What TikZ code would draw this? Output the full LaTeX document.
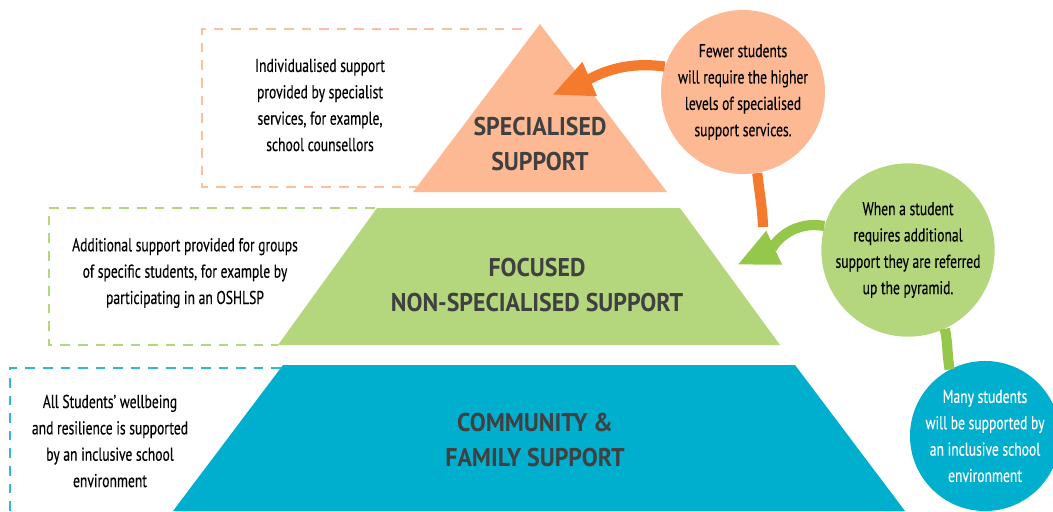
\documentclass[tikz,border=0pt]{standalone}
\usepackage{fontspec}
\setmainfont{PT Sans}[FakeStretch=0.73, FakeBold=0.3]
\newfontfamily\titlefont{PT Sans}[FakeStretch=0.93]
\usetikzlibrary{arrows.meta,positioning}

\definecolor{peach}{HTML}{FDB993}
\definecolor{peachdash}{HTML}{FBC0A0}
\definecolor{deeporange}{HTML}{F47A2E}
\definecolor{leaf}{HTML}{B4D67C}
\definecolor{deepleaf}{HTML}{95C84A}
\definecolor{sea}{HTML}{00AFCE}
\definecolor{seadash}{HTML}{33B8D2}
\definecolor{titlegray}{HTML}{404040}

\tikzset{
    bubble/.style={circle, minimum size=#1, inner sep=0pt, align=center,
        font=\fontsize{10.6}{15}\selectfont},
    note/.style={align=center, text=black, font=\fontsize{10.6}{15}\selectfont},
    level/.style={align=center, text=titlegray, font=\titlefont\bfseries\fontsize{14.6}{19.5}\selectfont},
    dashbox/.style={line width=1.5pt, dash pattern=on 5.5pt off 4.5pt},
    fatarrow/.style={line width=5.8pt, -{Triangle[length=0.82cm, width=0.68cm]}},
    fatline/.style={line width=5.8pt}
}

\begin{document}
\begin{tikzpicture}[x=0.02cm, y=-0.02cm]
    \useasboundingbox (0,0) rectangle (1053,511);

    % Pyramid levels
    \fill[peach] (540,24) -- (667,192) -- (413,192) -- cycle;
    \fill[leaf] (377,208) -- (680,208) -- (780,345) -- (278,345) -- cycle;
    \fill[sea] (283,365) -- (795,365) -- (905,511) -- (173,511) -- cycle;

    \node[level] (special) at (540,144) {SPECIALISED\\SUPPORT};
    \node[level] (focused) at (537,285) {FOCUSED\\NON-SPECIALISED SUPPORT};
    \node[level] (community) at (535,440) {COMMUNITY \&\\FAMILY SUPPORT};

    % Dashed boxes on the left
    \draw[dashbox, peachdash] (522,29) -- (202,29) -- (202,187) -- (417,187);
    \draw[dashbox, leaf] (375,208) -- (49,208) -- (49,345) -- (278,345);
    \draw[dashbox, seadash] (281,368) -- (10,368) -- (10,511);

    \node[note] (individual) at (320,105) {Individualised support\\provided by specialist\\services, for example,\\school counsellors};
    \node[note] (additional) at (185,273) {Additional support provided for groups\\of specific students, for example by\\participating in an OSHLSP};
    \node[note] (wellbeing) at (110,441) {All Students’ wellbeing\\and resilience is supported\\by an inclusive school\\environment};

    % Circles on the right
    \node[bubble=3.28cm, fill=peach] (fewer) at (743,92) {Fewer students\\will require the higher\\levels of specialised\\support services.};
    \node[bubble=3.28cm, fill=leaf] (when) at (908,250) {When a student\\requires additional\\support they are referred\\up the pyramid.};
    \node[bubble=2.8cm, fill=sea, text=white] (many) at (985,436) {Many students\\will be supported by\\an inclusive school\\environment};

    % Arrows into the pyramid
    \coordinate (tipspecial) at (552,95);
    \coordinate (tipfocused) at (737,265);
    \coordinate (tailfewer) at (763,227);

    \draw[fatarrow, deeporange] (fewer.162) to[out=172, in=23] (tipspecial);
    \draw[fatline, deeporange] (fewer.-80) to[out=-84, in=92] (tailfewer);
    \draw[fatarrow, deepleaf] (when.164) to[out=170, in=25] (tipfocused);
    \draw[fatline, deepleaf] (when.-65) to[out=-78, in=100] (many.118);
\end{tikzpicture}
\end{document}
